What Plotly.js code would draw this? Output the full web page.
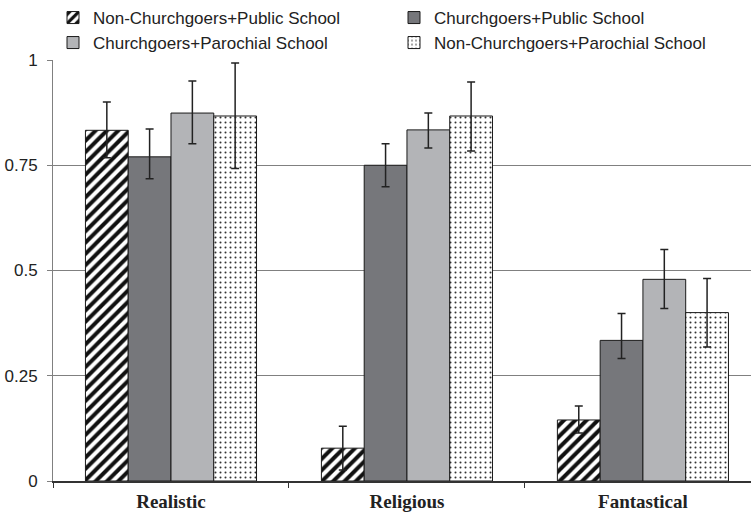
<!DOCTYPE html>
<html>
<head>
<meta charset="utf-8">
<script src="https://cdn.plot.ly/plotly-3.0.1.min.js"></script>
<style>html,body{margin:0;padding:0;background:#fff;}#chart{width:751px;height:516px;}</style>
</head>
<body>
<div id="chart"></div>
<script>
const categories = ["Realistic", "Religious", "Fantastical"];
const seriesNames = [
  "Non-Churchgoers+Public School",
  "Churchgoers+Public School",
  "Churchgoers+Parochial School",
  "Non-Churchgoers+Parochial School"
];
const nonChurchPublic = [0.833, 0.078, 0.145];
const churchPublic = [0.770, 0.750, 0.334];
const churchParochial = [0.874, 0.834, 0.479];
const nonChurchParochial = [0.867, 0.867, 0.400];

const nonChurchPublicErrPlus = [0.067, 0.052, 0.033];
const nonChurchPublicErrMinus = [0.065, 0.052, 0.031];
const churchPublicErrPlus = [0.066, 0.051, 0.064];
const churchPublicErrMinus = [0.052, 0.051, 0.043];
const churchParochialErrPlus = [0.076, 0.040, 0.071];
const churchParochialErrMinus = [0.073, 0.043, 0.069];
const nonChurchParochialErrPlus = [0.126, 0.081, 0.081];
const nonChurchParochialErrMinus = [0.125, 0.083, 0.082];

const yTickVals = [0, 0.25, 0.5, 0.75, 1];
const yTickText = ["0", "0.25", "0.5", "0.75", "1"];

const values = [nonChurchPublic, churchPublic, churchParochial, nonChurchParochial];
const errPlus = [nonChurchPublicErrPlus, churchPublicErrPlus, churchParochialErrPlus, nonChurchParochialErrPlus];
const errMinus = [nonChurchPublicErrMinus, churchPublicErrMinus, churchParochialErrMinus, nonChurchParochialErrMinus];

const markerStyles = [
  {color: "#ffffff", line: {color: "#1a1a1a", width: 1}, pattern: {shape: "/", fgcolor: "#111111", bgcolor: "#ffffff", size: 8, solidity: 0.5}},
  {color: "#76777b", line: {color: "#1a1a1a", width: 1}},
  {color: "#b3b4b7", line: {color: "#1a1a1a", width: 1}},
  {color: "#ffffff", line: {color: "#1a1a1a", width: 1}, pattern: {shape: ".", fgcolor: "#333333", bgcolor: "#ffffff", size: 5, solidity: 0.13}}
];
const legendIds = ["legend", "legend", "legend2", "legend2"];

const traces = values.map((v, i) => ({
  type: "bar",
  name: seriesNames[i],
  x: categories,
  y: v,
  marker: markerStyles[i],
  legend: legendIds[i],
  error_y: {type: "data", symmetric: false, array: errPlus[i], arrayminus: errMinus[i], color: "#222222", thickness: 1.5, width: 4}
}));

const legendBase = {
  orientation: "h",
  xanchor: "left",
  yanchor: "middle",
  x: 0.0,
  font: {family: "Liberation Sans, Arial, sans-serif", size: 17, color: "#222"},
  bgcolor: "rgba(0,0,0,0)",
  itemwidth: 30,
  entrywidth: 296,
  entrywidthmode: "pixels",
  traceorder: "normal",
  itemclick: false
};

const layout = {
  width: 751,
  height: 516,
  margin: {l: 53, r: 0, t: 59, b: 35, pad: 0},
  paper_bgcolor: "#ffffff",
  plot_bgcolor: "#ffffff",
  barmode: "group",
  bargap: 0.275,
  bargroupgap: 0,
  showlegend: true,
  legend: Object.assign({}, legendBase, {y: 1.0995}),
  legend2: Object.assign({}, legendBase, {y: 1.0379}),
  xaxis: {
    type: "category",
    range: [-0.5, 2.458],
    tickson: "boundaries",
    ticks: "outside",
    ticklen: 5,
    tickcolor: "#333",
    showline: true,
    linecolor: "#333",
    linewidth: 1.5,
    showgrid: false,
    ticklabelstandoff: 3,
    tickfont: {family: "Liberation Serif, Times New Roman, serif", size: 19, color: "#222", weight: "bold"},
    automargin: false,
    fixedrange: true
  },
  yaxis: {
    range: [0, 1],
    tickvals: yTickVals,
    ticktext: yTickText,
    ticks: "outside",
    ticklen: 5,
    tickcolor: "#808080",
    showline: true,
    linecolor: "#808080",
    linewidth: 1,
    showgrid: true,
    gridcolor: "#808080",
    gridwidth: 1,
    zeroline: false,
    ticklabelstandoff: 6,
    tickfont: {family: "Liberation Sans, Arial, sans-serif", size: 17, color: "#222"},
    automargin: false,
    fixedrange: true
  }
};

Plotly.newPlot("chart", traces, layout, {displayModeBar: false, staticPlot: true});
</script>
</body>
</html>
